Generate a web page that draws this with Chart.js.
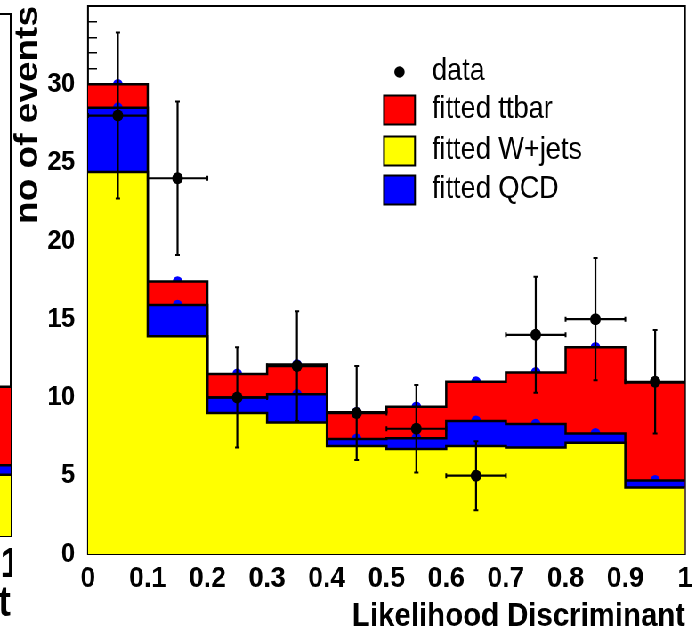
<!DOCTYPE html>
<html>
<head>
<meta charset="utf-8">
<script src="https://cdn.jsdelivr.net/npm/chart.js@4.4.0/dist/chart.umd.min.js"></script>
<style>
html,body{margin:0;padding:0;background:#fff;overflow:hidden;width:693px;height:634px;}
#wrap{position:absolute;left:0;top:0;width:779px;height:634px;transform:scaleX(0.89);transform-origin:0 0;}
#side{position:absolute;left:-546.6px;top:0;}
#main{position:absolute;left:0;top:0;}
</style>
</head>
<body>
<div id="wrap">
<canvas id="side" width="560" height="634"></canvas>
<canvas id="main" width="779" height="634"></canvas>
</div>
<script>
// ---------- data ----------
const binEdges    = [0, 0.1, 0.2, 0.3, 0.4, 0.5, 0.6, 0.7, 0.8, 0.9, 1.0];
const binCenters  = [0.05, 0.15, 0.25, 0.35, 0.45, 0.55, 0.65, 0.75, 0.85, 0.95];
const xTickLabels = ['0', '0.1', '0.2', '0.3', '0.4', '0.5', '0.6', '0.7', '0.8', '0.9', '1'];
const yTickValues = [0, 5, 10, 15, 20, 25, 30];
const yTickLabels = ['0', '5', '10', '15', '20', '25', '30'];

const wjets  = [24.4, 13.9, 9.0, 8.4, 6.9, 6.7, 6.9, 6.8, 7.1, 4.25];
const qcd    = [4.1, 2.0, 1.0, 1.8, 0.45, 0.7, 1.6, 1.5, 0.6, 0.45];
const ttbar  = [1.5, 1.5, 1.5, 1.9, 1.7, 2.0, 2.5, 3.3, 5.5, 6.25];
const dataCounts = [28, 24, 10, 12, 9, 8, 5, 14, 15, 11];
const dataErrors = [5.3, 4.9, 3.2, 3.5, 3.0, 2.8, 2.2, 3.7, 3.9, 3.3];

const legendLabels = ['data', 'fitted ttbar', 'fitted W+jets', 'fitted QCD'];

// neighbouring (cropped) panel on the far left
const sideEdges      = [0.9, 1.0];
const sideTickLabels = ['0.9', '1'];
const sideWjets = [4.1];
const sideQcd   = [0.65];
const sideTtbar = [5.25];

// ---------- styling ----------
const SX = 0.89;                 // horizontal squeeze applied to the whole drawing (condensed look)
const px = v => v / SX;          // page px -> canvas px (horizontal)
const FONT = "'Liberation Sans', Arial, Helvetica, sans-serif";
const RED = '#ff0000', YELLOW = '#ffff00', BLUE = '#0000ff', BLACK = '#000000';

// ---------- helpers ----------
const cumulate = (...layers) => layers[0].map((_, i) => layers.reduce((s, l) => s + l[i], 0));
const stepPoints = (edges, lv) => edges.map((e, i) => ({x: e, y: lv[Math.min(i, lv.length - 1)]}));
const centerPoints = (centers, lv) => centers.map((c, i) => ({x: c, y: lv[i]}));
const noPad = s => { s.paddingLeft = 0; s.paddingRight = 0; s.paddingTop = 0; s.paddingBottom = 0; };

const lvlW = cumulate(wjets);
const lvlQ = cumulate(wjets, qcd);
const lvlT = cumulate(wjets, qcd, ttbar);

const errPts = [];
binCenters.forEach((c, i) => {
  const v = dataCounts[i], e = dataErrors[i], h = (binEdges[i + 1] - binEdges[i]) / 2;
  errPts.push({x: c, y: v - e, cap: 'h'}, {x: c, y: v + e, cap: 'h'}, {x: c, y: null},
              {x: c - h, y: v, cap: 'v'}, {x: c + h, y: v, cap: 'v'}, {x: c + h, y: null});
});

const stepDS = (data, color, order) => ({
  type: 'line', data, order, stepped: true, fill: 'origin',
  backgroundColor: color, borderColor: BLACK, borderWidth: 2.5,
  pointRadius: 0, borderJoinStyle: 'miter'
});
const markerDS = (data, color, radius, order) => ({
  type: 'line', data, order, showLine: false,
  pointRadius: radius, pointBackgroundColor: color, pointBorderWidth: 0
});

const framePlugin = {
  id: 'frame',
  beforeDatasetsDraw(chart) {
    const {ctx, chartArea: a} = chart;
    ctx.save();
    ctx.strokeStyle = BLACK;
    ctx.lineWidth = 2;
    ctx.strokeRect(a.left, a.top, a.right - a.left, a.bottom - a.top);
    ctx.restore();
  }
};

const legendPlugin = {
  id: 'insideLegend',
  afterDatasetsDraw(chart, args, opts) {
    if (!opts.items) return;
    const {ctx, chartArea: a} = chart;
    ctx.save();
    opts.items.forEach((it, k) => {
      const cy = a.top + opts.rows[k];
      const bx = a.left + opts.boxX;
      if (it.kind === 'dot') {
        ctx.fillStyle = it.color;
        ctx.beginPath();
        ctx.arc(bx + opts.boxW / 2, cy, opts.dotR, 0, Math.PI * 2);
        ctx.fill();
      } else {
        ctx.fillStyle = it.color;
        ctx.fillRect(bx, cy - opts.boxH / 2, opts.boxW, opts.boxH);
        ctx.strokeStyle = BLACK;
        ctx.lineWidth = 2;
        ctx.strokeRect(bx, cy - opts.boxH / 2, opts.boxW, opts.boxH);
      }
      ctx.fillStyle = BLACK;
      ctx.font = opts.font;
      ctx.textAlign = 'left';
      ctx.textBaseline = 'middle';
      ctx.fillText(it.text, a.left + opts.textX, cy);
    });
    ctx.restore();
  }
};

// ---------- main chart ----------
new Chart(document.getElementById('main'), {
  type: 'line',
  data: {
    datasets: [
      markerDS(centerPoints(binCenters, lvlT), BLUE, 5.4, 8),
      stepDS(stepPoints(binEdges, lvlT), RED, 7),
      markerDS(centerPoints(binCenters, lvlQ), BLUE, 5.4, 6),
      stepDS(stepPoints(binEdges, lvlQ), BLUE, 5),
      stepDS(stepPoints(binEdges, lvlW), YELLOW, 4),
      {
        type: 'line', data: errPts, order: 2, spanGaps: false,
        borderColor: BLACK, borderWidth: 2.2, fill: false,
        pointStyle: 'line',
        pointRadius: c => (c.raw && c.raw.cap) ? 2.5 : 0,
        pointRotation: c => (c.raw && c.raw.cap === 'v') ? 90 : 0,
        pointBorderColor: BLACK, pointBorderWidth: 2
      },
      markerDS(centerPoints(binCenters, dataCounts), BLACK, 6, 1)
    ]
  },
  options: {
    responsive: false,
    animation: false,
    events: [],
    layout: {padding: {top: 4, right: 779 - px(685), left: 0, bottom: 0}},
    plugins: {
      legend: {display: false},
      tooltip: {enabled: false},
      insideLegend: {
        items: [
          {kind: 'dot', color: BLACK, text: legendLabels[0]},
          {kind: 'box', color: RED, text: legendLabels[1]},
          {kind: 'box', color: YELLOW, text: legendLabels[2]},
          {kind: 'box', color: BLUE, text: legendLabels[3]}
        ],
        rows: [66, 104, 145, 184],
        boxX: px(296), boxW: px(31), boxH: 29, dotR: 5.8, textX: px(344),
        font: "normal 30.5px " + FONT
      }
    },
    scales: {
      x: {
        type: 'linear', min: 0, max: 1,
        afterBuildTicks: s => { s.ticks = binEdges.map(v => ({value: v})); },
        afterFit: s => { s.height = 80; noPad(s); },
        grid: {display: false, drawTicks: false},
        border: {display: false},
        ticks: {
          autoSkip: false, maxRotation: 0, padding: 7, color: BLACK,
          font: {family: FONT, size: 30, weight: 'bold', lineHeight: 1.2},
          callback: (v, i) => xTickLabels[i]
        },
        title: {
          display: true, text: 'Likelihood Discriminant', align: 'end', color: BLACK,
          font: {family: FONT, size: 33, weight: 'bold', lineHeight: 1},
          padding: {top: 0, bottom: 1}
        }
      },
      y: {
        type: 'linear', min: 0, max: 35,
        afterBuildTicks: s => { s.ticks = Array.from({length: 36}, (_, i) => ({value: i})); },
        afterFit: s => { s.width = px(88); noPad(s); },
        grid: {display: true, drawOnChartArea: false, drawTicks: true, tickLength: -px(9), color: BLACK, lineWidth: 1.5},
        border: {display: false},
        ticks: {
          autoSkip: false, padding: px(22), color: BLACK,
          font: {family: FONT, size: 28, weight: 'bold', lineHeight: 1.2},
          callback: v => { const k = yTickValues.indexOf(v); return k >= 0 ? yTickLabels[k] : ''; }
        },
        title: {
          display: true, text: 'no of events', align: 'end', color: BLACK,
          font: {family: FONT, size: 37, weight: 'bold', lineHeight: 1},
          padding: {top: px(28.5) - 18.5, bottom: 0}
        }
      }
    }
  },
  plugins: [framePlugin, legendPlugin]
});

// ---------- neighbouring panel (only its right edge is visible) ----------
const sW = cumulate(sideWjets), sQ = cumulate(sideWjets, sideQcd), sT = cumulate(sideWjets, sideQcd, sideTtbar);
new Chart(document.getElementById('side'), {
  type: 'line',
  data: {
    datasets: [
      stepDS(stepPoints(sideEdges, sT), RED, 3),
      stepDS(stepPoints(sideEdges, sQ), BLUE, 2),
      stepDS(stepPoints(sideEdges, sW), YELLOW, 1)
    ]
  },
  options: {
    responsive: false, animation: false, events: [],
    layout: {padding: {top: 14, right: 1, left: 0, bottom: 0}},
    plugins: {legend: {display: false}, tooltip: {enabled: false}},
    scales: {
      x: {
        type: 'linear', min: 0.9, max: 1,
        afterBuildTicks: s => { s.ticks = sideEdges.map(v => ({value: v})); },
        afterFit: s => { s.height = 98; noPad(s); },
        grid: {display: false, drawTicks: false},
        border: {display: false},
        ticks: {
          autoSkip: false, maxRotation: 0, padding: 4, color: BLACK,
          font: {family: FONT, size: 42, weight: 'bold', lineHeight: 1.2},
          callback: (v, i) => sideTickLabels[i]
        },
        title: {
          display: true, text: 'Likelihood Discriminant', align: 'end', color: BLACK,
          font: {family: FONT, size: 42, weight: 'bold', lineHeight: 1},
          padding: {top: 0, bottom: 9}
        }
      },
      y: {type: 'linear', min: 0, max: 35, display: false}
    }
  },
  plugins: [framePlugin]
});
</script>
</body>
</html>
